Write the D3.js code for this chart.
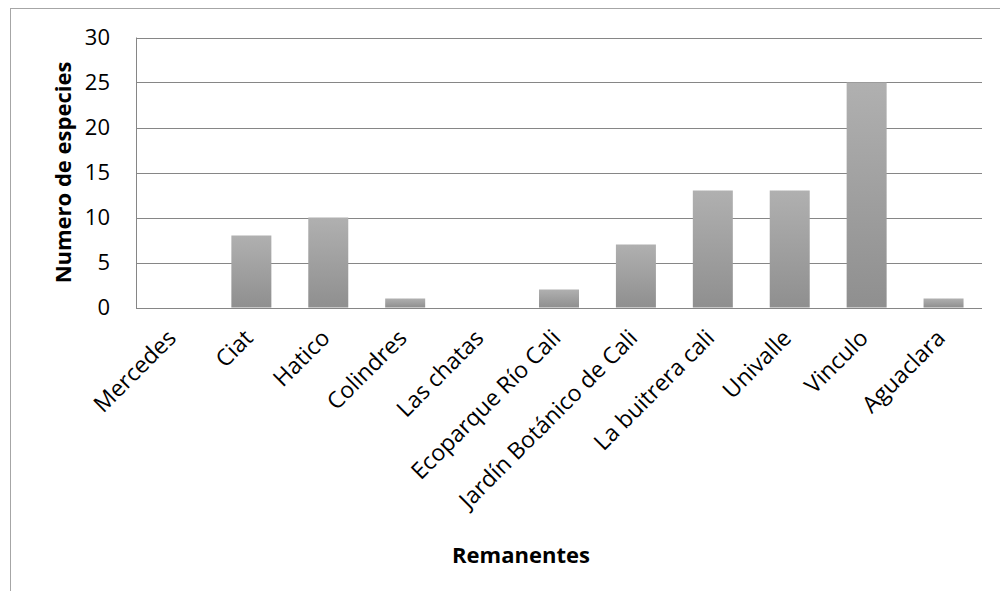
<!DOCTYPE html>
<html><head><meta charset="utf-8">
<script src="https://cdn.jsdelivr.net/npm/d3@7"></script>
<style>body{margin:0;background:#fff}svg{display:block}</style>
</head><body>
<script>
const categories = ["Mercedes","Ciat","Hatico","Colindres","Las chatas","Ecoparque Río Cali","Jardín Botánico de Cali","La buitrera cali","Univalle","Vinculo","Aguaclara"];
const values = [0,8,10,1,0,2,7,13,13,25,1];
const yTicks = [0,5,10,15,20,25,30];
const yTitle = "Numero de especies";
const xTitle = "Remanentes";

const W=1000,H=591;
const svg=d3.select("body").append("svg").attr("width",W).attr("height",H);
const font="'Open Sans', sans-serif";
svg.append("rect").attr("x",10.5).attr("y",8.5).attr("width",1000).attr("height",600)
  .attr("fill","#fff").attr("stroke","#a6a6a6");

const L=136,R=982,T=37.5,B=307.5;
const x=d3.scaleBand().domain(categories).range([L,R]).paddingInner(0.48).paddingOuter(0.24);
const y=d3.scaleLinear().domain([0,30]).range([B,T]);

const defs=svg.append("defs");
const g=defs.append("linearGradient").attr("id","bg").attr("x1",0).attr("y1",0).attr("x2",0).attr("y2",1);
g.append("stop").attr("offset","0%").attr("stop-color","#b0b0b0");
g.append("stop").attr("offset","100%").attr("stop-color","#8f8f8f");

// gridlines
svg.append("g").selectAll("line").data(yTicks).join("line")
  .attr("x1",L).attr("x2",R).attr("y1",d=>Math.round(y(d))+0.5).attr("y2",d=>Math.round(y(d))+0.5)
  .attr("stroke","#868686").attr("stroke-width",1);
svg.append("line").attr("x1",L+0.5).attr("x2",L+0.5).attr("y1",T).attr("y2",B+0.5).attr("stroke","#868686");

// bars
svg.append("g").selectAll("rect").data(values).join("rect")
  .attr("x",(d,i)=>x(categories[i])).attr("width",x.bandwidth())
  .attr("y",d=>y(d)).attr("height",d=>B-y(d)).attr("fill","url(#bg)");

// y tick labels
svg.append("g").selectAll("text").data(yTicks).join("text")
  .attr("x",110).attr("y",d=>y(d)).attr("dy","0.36em").attr("text-anchor","end")
  .attr("font-family",font).attr("font-size",22).attr("fill","#000").text(d=>d);

// x labels
svg.append("g").selectAll("text").data(categories).join("text")
  .attr("transform",d=>`translate(${x(d)+x.bandwidth()/2+3},${B+32}) rotate(-45)`)
  .attr("text-anchor","end").attr("font-family",font).attr("font-size",23).attr("fill","#000").text(d=>d);

svg.append("text").attr("transform",`translate(71,${(T+B)/2}) rotate(-90)`)
  .attr("text-anchor","middle").attr("font-family",font).attr("font-weight","bold").attr("font-size",22).text(yTitle);
svg.append("text").attr("x",521).attr("y",563).attr("text-anchor","middle")
  .attr("font-family",font).attr("font-weight","bold").attr("font-size",22).text(xTitle);
</script>
</body></html>
